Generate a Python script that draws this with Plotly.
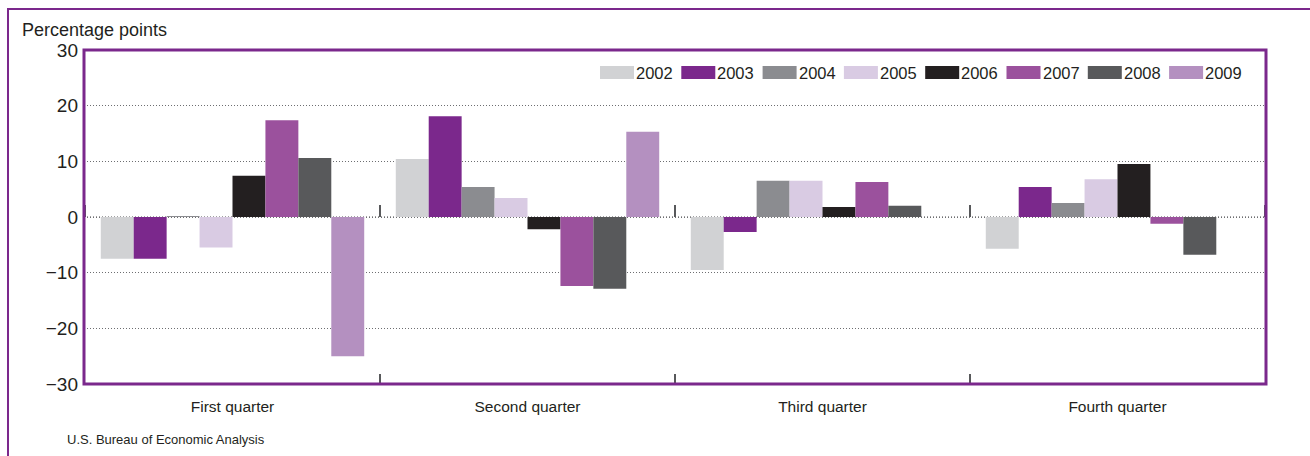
import plotly.graph_objects as go

quarters = ["First quarter", "Second quarter", "Third quarter", "Fourth quarter"]
years = ["2002", "2003", "2004", "2005", "2006", "2007", "2008", "2009"]

# percentage-point changes by year, one value per quarter (None = not shown)
v2002 = [-7.5, 10.4, -9.5, -5.7]
v2003 = [-7.5, 18.1, -2.7, 5.4]
v2004 = [0.15, 5.4, 6.5, 2.5]
v2005 = [-5.5, 3.4, 6.5, 6.8]
v2006 = [7.4, -2.2, 1.8, 9.5]
v2007 = [17.4, -12.4, 6.3, -1.2]
v2008 = [10.6, -12.9, 2.0, -6.8]
v2009 = [-25.0, 15.3, None, None]

series = [v2002, v2003, v2004, v2005, v2006, v2007, v2008, v2009]
colors = ["#d1d2d4", "#7b288c", "#8b8c90", "#d9cbe3",
          "#231f20", "#9b519d", "#58595b", "#b490c0"]

PURPLE = "#7b288c"
TEXT = "#231f20"
GRID = "#6d6e71"
SANS = "Liberation Sans, Arial, Helvetica"
DOTS = "1px,2px"

fig = go.Figure()
for yr, vals, col in zip(years, series, colors):
    fig.add_trace(go.Bar(name=yr, x=quarters, y=vals, marker_color=col,
                         marker_line_width=0, showlegend=False))

fig.update_layout(
    width=1310, height=456,
    margin=dict(l=84, r=44, t=50, b=72),
    paper_bgcolor="white", plot_bgcolor="white",
    barmode="group", bargap=0.107, bargroupgap=0,
    font=dict(family=SANS, color=TEXT),
)

fig.update_yaxes(
    range=[-30, 30], dtick=10, showline=False, zeroline=False,
    showgrid=True, gridcolor=GRID, griddash=DOTS, gridwidth=1,
    tickfont=dict(size=19, family=SANS, color=TEXT), ticks="",
    ticklabelstandoff=5,
)
fig.update_xaxes(
    showline=False, showgrid=False, ticks="inside", tickson="boundaries",
    ticklen=10, tickcolor="#58595b", tickwidth=2,
    tickfont=dict(size=15.5, family=SANS, color=TEXT),
    ticklabelstandoff=11,
)

# zero line (dotted, like the other grid lines)
fig.add_hline(y=0, line=dict(color="#414042", width=1, dash=DOTS), layer="below")

# small ticks rising from the zero line at quarter boundaries
for b in [-0.5, 0.5, 1.5, 2.5, 3.5]:
    fig.add_shape(type="line", xref="x", yref="y", x0=b, x1=b,
                  ysizemode="pixel", yanchor=0, y0=0, y1=12,
                  line=dict(color="#58595b", width=2))

# purple plot frame
fig.add_shape(type="rect", xref="paper", yref="paper", x0=0, x1=1, y0=0, y1=1,
              line=dict(color=PURPLE, width=3), layer="above")

# outer figure frame (left and top)
fig.add_shape(type="path", xref="paper", yref="paper",
              path="M -0.0643,-0.25 L -0.0643,1.1228 L 1.04,1.1228",
              line=dict(color=PURPLE, width=2))

# legend drawn as swatches + labels
lx0 = (600 - 84) / 1182
step = 81.3 / 1182
sw = 34 / 1182
for i, (yr, col) in enumerate(zip(years, colors)):
    x = lx0 + i * step
    fig.add_shape(type="rect", xref="paper", yref="paper",
                  x0=x, x1=x + sw, y0=(384 - 79) / 334, y1=(384 - 66) / 334,
                  fillcolor=col, line_width=0)
    fig.add_annotation(text=yr, xref="paper", yref="paper",
                       x=x + sw, y=(384 - 73) / 334,
                       xanchor="left", yanchor="middle", showarrow=False,
                       font=dict(size=16.5, family=SANS, color=TEXT))

fig.add_annotation(text="Percentage points", xref="paper", yref="paper",
                   x=(20 - 84) / 1182, y=(384 - 30) / 334,
                   xanchor="left", yanchor="middle", showarrow=False,
                   font=dict(size=18, family=SANS, color=TEXT))
fig.add_annotation(text="U.S. Bureau of Economic Analysis", xref="paper", yref="paper",
                   x=(65 - 84) / 1182, y=(384 - 439) / 334,
                   xanchor="left", yanchor="middle", showarrow=False,
                   font=dict(size=13, family=SANS, color=TEXT))

fig.write_html("out.html", config={"displayModeBar": False},
               post_script="document.body.style.margin='0px';")
